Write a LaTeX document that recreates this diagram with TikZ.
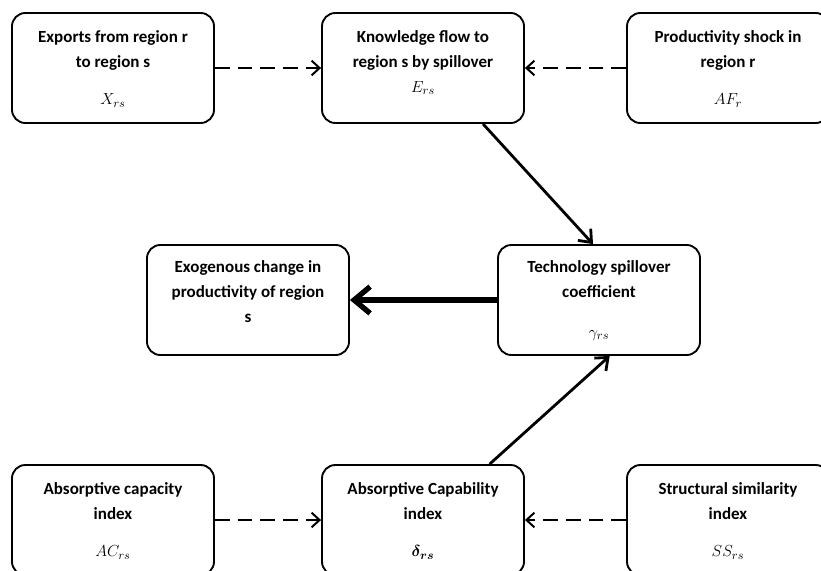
\documentclass[tikz,border=0pt]{standalone}
\usepackage{fontspec}
\setmainfont{Carlito}
\usepackage{amsmath}
\usepackage{bm}
\usetikzlibrary{arrows.meta, positioning}

\begin{document}
\begin{tikzpicture}[x=0.75pt,y=-0.75pt,
    box/.style={draw,line width=1.4pt,rounded corners=10pt,minimum width=151.5pt,minimum height=82.5pt,inner sep=0pt},
    txt/.style={align=center,inner sep=0pt,font=\fontsize{12.75}{18.75}\selectfont\bfseries},
    dasharrow/.style={line width=1.5pt,dash pattern=on 11pt off 6pt,-{Straight Barb[length=6pt,width=11pt]}},
    solidarrow/.style={line width=2.1pt,-{Straight Barb[length=8pt,width=13pt]}}]
      \useasboundingbox(0,0)rectangle(821,571);
      \clip(0,0)rectangle(821,571);
      % top row
      \node[box](exports)at(113,68){};
      \node[box](know)at(423,68){};
      \node[box](shock)at(728,68){};
      \node[txt,below=13.5pt of exports.north](exportsT){Exports from region r\\to region s\\[9.5pt]$X_{rs}$};
      \node[txt,below=13.5pt of know.north](knowT){Knowledge flow to\\region s by spillover\\$E_{rs}$};
      \node[txt,below=13.5pt of shock.north](shockT){Productivity shock in\\region r\\[9.5pt]$AF_{r}$};
      % middle row
      \node[box](exo)at(248,300){};
      \node[box](gamma)at(599,300){};
      \node[txt,below=12.5pt of exo.north](exoT){Exogenous change in\\productivity of region\\s};
      \node[txt,below=12.5pt of gamma.north](gammaT){Technology spillover\\coefficient\\[11pt]$\gamma_{rs}$};
      % bottom row
      \node[box](absorb)at(113,520){};
      \node[box](delta)at(423,520){};
      \node[box](simil)at(728,520){};
      \node[txt,below=13.5pt of absorb.north](absorbT){Absorptive capacity\\index\\[9.5pt]$AC_{rs}$};
      \node[txt,below=13.5pt of delta.north](deltaT){Absorptive Capability\\index\\[9.5pt]$\bm{\delta_{rs}}$};
      \node[txt,below=13.5pt of simil.north](similT){Structural similarity\\index\\[9.5pt]$SS_{rs}$};
      % arrows
      \draw[dasharrow](exports.east)--(know.west);
      \draw[dasharrow](shock.west)--(know.east);
      \draw[dasharrow](absorb.east)--(delta.west);
      \draw[dasharrow](simil.west)--(delta.east);
      \draw[solidarrow]([xshift=45pt]know.south)--([xshift=-4.5pt]gamma.north);
      \draw[solidarrow]([xshift=50pt]delta.north)--([xshift=8pt]gamma.south);
      \draw[line width=4pt,-{Straight Barb[length=12pt,width=20pt]}](gamma.west)--(exo.east);
\end{tikzpicture}
\end{document}
